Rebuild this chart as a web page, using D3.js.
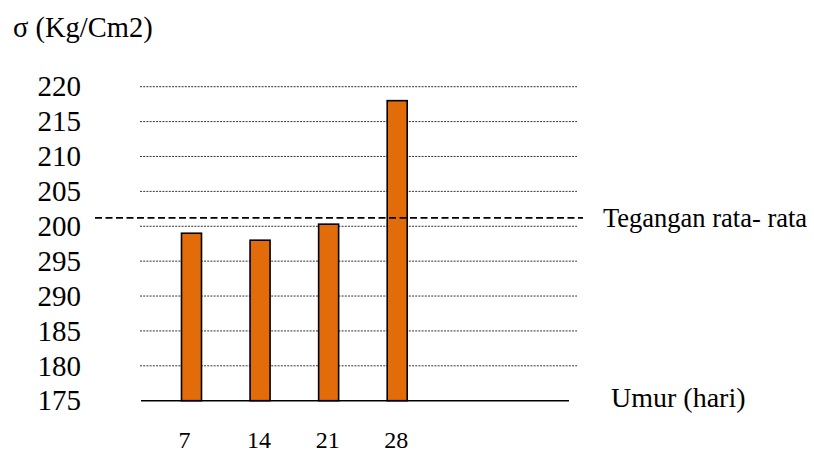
<!DOCTYPE html>
<html>
<head>
<meta charset="utf-8">
<script src="https://cdn.jsdelivr.net/npm/d3@7"></script>
<style>
  html, body { margin: 0; padding: 0; background: #fff; }
  svg { display: block; }
  text { font-family: "Liberation Serif", "Times New Roman", serif; fill: #000; }
</style>
</head>
<body>
<svg id="chart" width="814" height="454"></svg>
<script>
// Compressive strength by concrete age
const days = [7, 14, 21, 28];
const strength = [199, 198, 200.3, 218];
const averageStrength = 201.2;

// Axis ticks and their printed labels
const yTicks = [175, 180, 185, 190, 195, 200, 205, 210, 215, 220];
const yTickLabels = ["175", "180", "185", "290", "295", "200", "205", "210", "215", "220"];
const xTickLabels = ["7", "14", "21", "28"];

const svg = d3.select("#chart");

const y = d3.scaleLinear().domain([175, 220]).range([400.7, 86.7]);
const x = d3.scaleLinear().domain([7, 28]).range([191.5, 397.2]);
const barWidth = 20;

// Dotted horizontal grid
svg.append("g")
  .selectAll("line")
  .data(yTicks.slice(1))
  .join("line")
  .attr("x1", 140).attr("x2", 577)
  .attr("y1", d => y(d)).attr("y2", d => y(d))
  .attr("stroke", "#333")
  .attr("stroke-width", 1)
  .attr("stroke-dasharray", "2,1.2");

// Y axis labels (no axis line)
const yAxis = d3.axisLeft(y)
  .tickValues(yTicks)
  .tickSize(0)
  .tickPadding(0)
  .tickFormat((d, i) => yTickLabels[i]);
const gy = svg.append("g").attr("transform", "translate(81,0)").call(yAxis);
gy.select(".domain").remove();
gy.selectAll("text")
  .attr("font-family", "Liberation Serif, serif")
  .attr("font-size", 29)
  .attr("fill", "#000");

// Bars
svg.append("g")
  .selectAll("rect")
  .data(days.map((d, i) => ({ day: d, value: strength[i] })))
  .join("rect")
  .attr("x", d => x(d.day) - barWidth / 2)
  .attr("y", d => y(d.value))
  .attr("width", barWidth)
  .attr("height", d => y(175) - y(d.value))
  .attr("fill", "#e36c0a")
  .attr("stroke", "#000")
  .attr("stroke-width", 1.6);

// Base line
svg.append("line")
  .attr("x1", 141).attr("x2", 569)
  .attr("y1", y(175)).attr("y2", y(175))
  .attr("stroke", "#000")
  .attr("stroke-width", 1.6);

// Average strength line
svg.append("line")
  .attr("x1", 95).attr("x2", 583)
  .attr("y1", y(averageStrength)).attr("y2", y(averageStrength))
  .attr("stroke", "#000")
  .attr("stroke-width", 1.6)
  .attr("stroke-dasharray", "7,3.5");

svg.append("text")
  .attr("x", 603).attr("y", y(averageStrength) + 9)
  .attr("font-size", 26.5)
  .text("Tegangan rata- rata");

// X labels
svg.append("g")
  .selectAll("text")
  .data(days)
  .join("text")
  .attr("x", d => x(d) - barWidth / 2 - 3)
  .attr("y", 448)
  .attr("font-size", 24)
  .text((d, i) => xTickLabels[i]);

svg.append("text")
  .attr("x", 611).attr("y", 407)
  .attr("font-size", 28)
  .text("Umur (hari)");

// Y axis title
svg.append("text")
  .attr("x", 13).attr("y", 37)
  .attr("font-size", 28.5)
  .text("σ (Kg/Cm2)");
</script>
</body>
</html>
